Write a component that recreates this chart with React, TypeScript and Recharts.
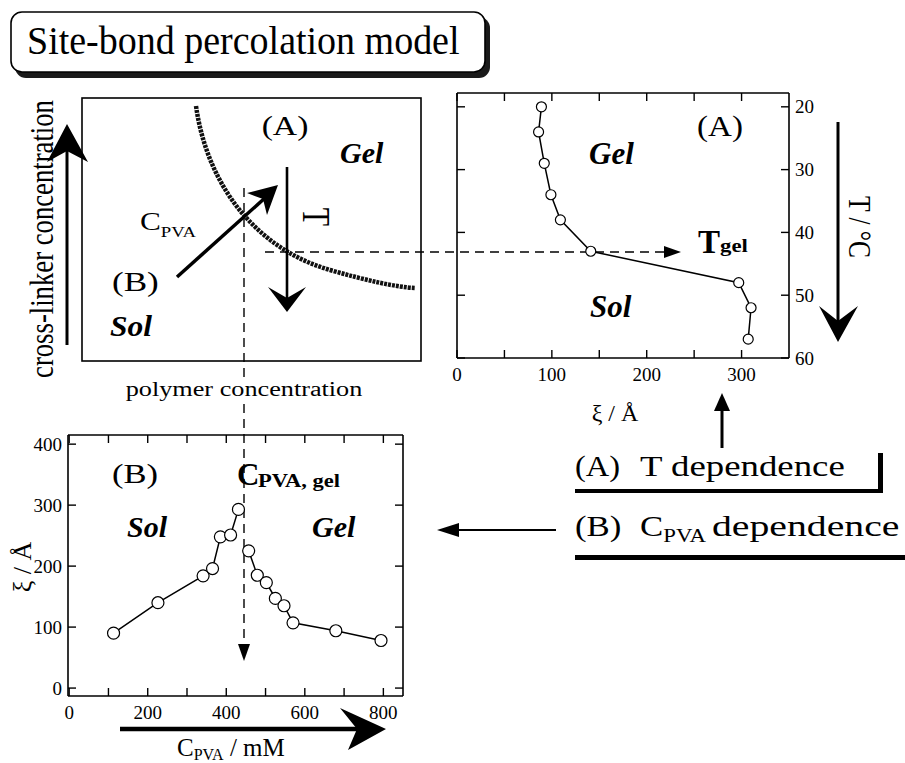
import React from 'react';
import { ComposedChart, Line, XAxis, YAxis } from 'recharts';

const FONT = '"Liberation Serif", "Times New Roman", Times, serif';

// ---------- Panel (A): temperature dependence ----------
const tempA = [20, 24, 29, 34, 38, 43, 48, 52, 57];
const xiA = [89, 86, 92, 99, 109, 141, 297, 310, 307];
const xTicksA = [0, 50, 100, 150, 200, 250, 300];
const xLabelsA = [0, 100, 200, 300];
const yTicksA = [20, 30, 40, 50, 60];

// ---------- Panel (B): C_PVA dependence ----------
const cSol = [113, 226, 341, 365, 385, 411, 431];
const xiSol = [90, 140, 184, 196, 248, 251, 293];
const cGel = [457, 479, 502, 525, 547, 570, 679, 794];
const xiGel = [225, 185, 173, 147, 135, 107, 94, 78];
const xTicksB = [0, 100, 200, 300, 400, 500, 600, 700, 800];
const xLabelsB = [0, 200, 400, 600, 800];
const yTicksB = [0, 100, 200, 300, 400];

const dataA = tempA.map((t, i) => ({ xi: xiA[i], T: t }));
const dataSol = cSol.map((c, i) => ({ c, xi: xiSol[i] }));
const dataGel = cGel.map((c, i) => ({ c, xi: xiGel[i] }));

const axisStyle = { stroke: '#000', strokeWidth: 1.6 };

type Side = 'bottom' | 'top' | 'left' | 'right';
const makeTick = (side: Side, labels: number[] | null, len: number, fs: number) => (props: any) => {
  const { x, y, payload } = props;
  const v = payload.value;
  const show = labels && labels.includes(v);
  let line: any = null;
  let label: any = null;
  if (side === 'bottom') {
    line = <line x1={x} y1={y} x2={x} y2={y - len} stroke="#000" strokeWidth={1.4} />;
    if (show) label = <text x={x} y={y + 23} textAnchor="middle" fontSize={fs} fontFamily={FONT} fill="#000">{v}</text>;
  } else if (side === 'top') {
    line = <line x1={x} y1={y} x2={x} y2={y + len} stroke="#000" strokeWidth={1.4} />;
  } else if (side === 'left') {
    line = <line x1={x} y1={y} x2={x + len} y2={y} stroke="#000" strokeWidth={1.4} />;
    if (show) label = <text x={x - 6} y={y + 6.5} textAnchor="end" fontSize={fs} fontFamily={FONT} fill="#000">{v}</text>;
  } else {
    line = <line x1={x} y1={y} x2={x - len} y2={y} stroke="#000" strokeWidth={1.4} />;
    if (show) label = <text x={x + 6} y={y + 6.5} textAnchor="start" fontSize={fs} fontFamily={FONT} fill="#000">{v}</text>;
  }
  return <g>{line}{label}</g>;
};

function Txt({ x, y, size, sx = 1, rot = 0, anchor = 'start', bold = false, italic = false, children }: any) {
  const tr = rot
    ? `translate(${x},${y}) rotate(${rot}) scale(1,${sx})`
    : `translate(${x},${y}) scale(${sx},1)`;
  return (
    <text
      transform={tr}
      x={0}
      y={0}
      fontSize={size}
      fontFamily={FONT}
      fontWeight={bold ? 'bold' : 'normal'}
      fontStyle={italic ? 'italic' : 'normal'}
      textAnchor={anchor}
      fill="#000"
    >
      {children}
    </text>
  );
}

function Overlay() {
  return (
    <svg width={905} height={763} style={{ position: 'absolute', left: 0, top: 0 }}>
      {/* Title box */}
      <rect x={15} y={17} width={475} height={61} rx={11} fill="#1a1a1a" />
      <rect x={11} y={12} width={474} height={60} rx={11} fill="#fff" stroke="#000" strokeWidth={1.6} />
      <Txt x={27} y={54} size={40} sx={0.95}>Site-bond percolation model</Txt>

      {/* Schematic phase diagram */}
      <rect x={82} y={98} width={339} height={263} fill="none" stroke="#000" strokeWidth={1.6} />
      <path d="M196,106 C208,190 260,250 330,270 C365,280 395,287 415,288" fill="none" stroke="#111" strokeWidth={4.5} strokeDasharray="3 1" />

      {/* dashed guides */}
      <line x1={265} y1={252} x2={668} y2={252} stroke="#000" strokeWidth={1.4} strokeDasharray="9 6" />
      <polygon points="681,252 664,246 664,258" fill="#000" />
      <line x1={244} y1={188} x2={244} y2={380} stroke="#000" strokeWidth={1.4} strokeDasharray="9 6" />
      <line x1={244} y1={404} x2={244} y2={648} stroke="#000" strokeWidth={1.4} strokeDasharray="9 6" />
      <polygon points="244,661 238,644 250,644" fill="#000" />

      {/* cross-linker up arrow */}
      <line x1={67} y1={345} x2={67} y2={150} stroke="#000" strokeWidth={3} />
      <polygon points="67,124 88,162 67,151 47,162" fill="#000" />

      {/* (B) diagonal arrow */}
      <line x1={177} y1={277} x2={266} y2={197} stroke="#000" strokeWidth={3.5} />
      <polygon points="278,185 267,215 263,199 247,193" fill="#000" />

      {/* T down arrow in schematic */}
      <line x1={287} y1={167} x2={287} y2={300} stroke="#000" strokeWidth={2.6} />
      <polygon points="287,312 306,287 287,298 268,287" fill="#000" />

      <Txt x={285} y={135} size={26.5} sx={1.27} anchor="middle">(A)</Txt>
      <Txt x={340} y={163} size={30} bold italic>Gel</Txt>
      <Txt x={303} y={217} size={30} sx={1.3} rot={90} anchor="middle">T</Txt>
      <Txt x={140} y={230} size={25} sx={1.25}>
        C<tspan fontSize={15} dy={7}>PVA</tspan>
      </Txt>
      <Txt x={112} y={291} size={27} sx={1.3}>(B)</Txt>
      <Txt x={110} y={336} size={30} sx={1.05} bold italic>Sol</Txt>
      <Txt x={53} y={239} size={26.7} sx={1.3} rot={-90} anchor="middle">cross-linker concentration</Txt>
      <Txt x={244} y={396} size={20.5} sx={1.28} anchor="middle">polymer concentration</Txt>

      {/* Panel A annotations */}
      <Txt x={720} y={136} size={28.5} sx={1.16} anchor="middle">(A)</Txt>
      <Txt x={589} y={164} size={31} bold italic>Gel</Txt>
      <Txt x={590} y={317} size={31} bold italic>Sol</Txt>
      <Txt x={698} y={253} size={33} bold>T</Txt>
      <Txt x={720} y={252} size={19} sx={1.2} bold>gel</Txt>
      <Txt x={849} y={227} size={25.5} sx={1.2} rot={90} anchor="middle">T / °C</Txt>
      <line x1={838} y1={122} x2={838} y2={322} stroke="#000" strokeWidth={3} />
      <polygon points="838,342 858,306 838,321 819,306" fill="#000" />
      <Txt x={615} y={421} size={24} anchor="middle">ξ / Å</Txt>
      <line x1={722} y1={448} x2={722} y2={406} stroke="#000" strokeWidth={3} />
      <polygon points="722,393 730,411 714,411" fill="#000" />

      {/* Right text panel */}
      <Txt x={575} y={476} size={29} sx={1.12}>(A)</Txt>
      <Txt x={640} y={476} size={29} sx={1.27}>T dependence</Txt>
      <rect x={575} y={489} width={308} height={4} fill="#000" />
      <rect x={878} y={453} width={5} height={40} fill="#000" />
      <Txt x={575} y={536} size={29} sx={1.2}>(B)</Txt>
      <Txt x={640} y={536} size={29} sx={1.2}>
        C<tspan fontSize={19} dy={6}>PVA</tspan>
      </Txt>
      <Txt x={712} y={536} size={29} sx={1.37}>dependence</Txt>
      <rect x={575} y={555} width={330} height={5} fill="#000" />
      <line x1={556} y1={530} x2={455} y2={530} stroke="#000" strokeWidth={2} />
      <polygon points="437,530 459,523 459,537" fill="#000" />

      {/* Panel B annotations */}
      <Txt x={112} y={483} size={27} sx={1.28}>(B)</Txt>
      <Txt x={237} y={485} size={31} bold>C</Txt>
      <Txt x={258} y={487} size={18} sx={1.25} bold>PVA, gel</Txt>
      <Txt x={127} y={537} size={30} bold italic>Sol</Txt>
      <Txt x={312} y={537} size={30} bold italic>Gel</Txt>
      <Txt x={31} y={567} size={26} rot={-90} anchor="middle">ξ / Å</Txt>
      <line x1={120} y1={729} x2={358} y2={729} stroke="#000" strokeWidth={4.5} />
      <polygon points="386,729 340,708 357,729 348,750" fill="#000" />
      <Txt x={177} y={756} size={25}>
        C<tspan fontSize={16} dy={4}>PVA</tspan><tspan dy={-4}> / mM</tspan>
      </Txt>
    </svg>
  );
}

function ChartA() {
  return (
    <div style={{ position: 'absolute', left: 452, top: 88 }}>
      <ComposedChart width={397} height={305} margin={{ top: 4, right: 0, bottom: 0, left: 4 }}>
        <XAxis xAxisId="b" orientation="bottom" type="number" dataKey="xi" domain={[0, 350]} ticks={xTicksA} interval={0}
          tickSize={0} tickMargin={0} height={35} axisLine={axisStyle} tickLine={false} tick={makeTick('bottom', xLabelsA, 8, 19)} allowDataOverflow />
        <XAxis xAxisId="t" orientation="top" type="number" dataKey="xi" domain={[0, 350]} ticks={xTicksA} interval={0}
          tickSize={0} tickMargin={0} height={1} axisLine={axisStyle} tickLine={false} tick={makeTick('top', null, 8, 19)} allowDataOverflow />
        <YAxis yAxisId="r" orientation="right" type="number" domain={[17.8, 60]} reversed ticks={yTicksA} interval={0}
          tickSize={0} tickMargin={0} width={60} axisLine={axisStyle} tickLine={false} tick={makeTick('right', yTicksA, 8, 19)} allowDataOverflow />
        <YAxis yAxisId="l" orientation="left" type="number" domain={[17.8, 60]} reversed ticks={yTicksA} interval={0}
          tickSize={0} tickMargin={0} width={1} axisLine={axisStyle} tickLine={false} tick={makeTick('left', null, 8, 19)} allowDataOverflow />
        <Line xAxisId="b" yAxisId="r" data={dataA} dataKey="T" type="linear" stroke="#000" strokeWidth={1.5}
          dot={{ r: 5, fill: '#fff', stroke: '#000', strokeWidth: 1.2 }} isAnimationActive={false} />
      </ComposedChart>
    </div>
  );
}

function ChartB() {
  return (
    <div style={{ position: 'absolute', left: 13, top: 430 }}>
      <ComposedChart width={395} height={301} margin={{ top: 4, right: 4, bottom: 0, left: 5 }}>
        <XAxis xAxisId="b" orientation="bottom" type="number" dataKey="c" domain={[-3, 850]} ticks={xTicksB} interval={0}
          tickSize={0} tickMargin={0} height={35} axisLine={axisStyle} tickLine={false} tick={makeTick('bottom', xLabelsB, 8, 19)} allowDataOverflow />
        <XAxis xAxisId="t" orientation="top" type="number" dataKey="c" domain={[-3, 850]} ticks={xTicksB} interval={0}
          tickSize={0} tickMargin={0} height={1} axisLine={axisStyle} tickLine={false} tick={makeTick('top', null, 8, 19)} allowDataOverflow />
        <YAxis yAxisId="l" orientation="left" type="number" domain={[-13, 415]} ticks={yTicksB} interval={0}
          tickSize={0} tickMargin={0} width={50} axisLine={axisStyle} tickLine={false} tick={makeTick('left', yTicksB, 8, 19)} allowDataOverflow />
        <YAxis yAxisId="r" orientation="right" type="number" domain={[-13, 415]} ticks={yTicksB} interval={0}
          tickSize={0} tickMargin={0} width={1} axisLine={axisStyle} tickLine={false} tick={makeTick('right', null, 8, 19)} allowDataOverflow />
        <Line xAxisId="b" yAxisId="l" data={dataSol} dataKey="xi" type="linear" stroke="#000" strokeWidth={1.5}
          dot={{ r: 6, fill: '#fff', stroke: '#000', strokeWidth: 1.2 }} isAnimationActive={false} />
        <Line xAxisId="b" yAxisId="l" data={dataGel} dataKey="xi" type="linear" stroke="#000" strokeWidth={1.5}
          dot={{ r: 6, fill: '#fff', stroke: '#000', strokeWidth: 1.2 }} isAnimationActive={false} />
      </ComposedChart>
    </div>
  );
}

export default function App() {
  return (
    <div style={{ position: 'absolute', left: 0, top: 0, width: 905, height: 763, background: '#fff', overflow: 'hidden', fontFamily: FONT }}>
      <Overlay />
      <ChartA />
      <ChartB />
    </div>
  );
}
